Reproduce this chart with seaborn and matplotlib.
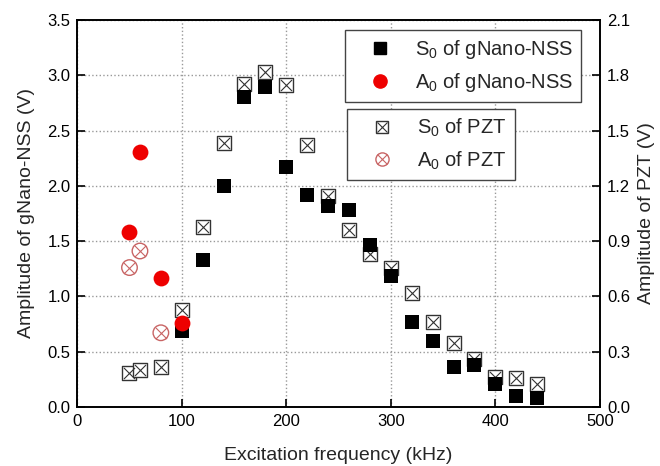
import numpy as np
import pandas as pd
import matplotlib
matplotlib.use("Agg")
import matplotlib.pyplot as plt
import seaborn as sns

# S0 / A0 amplitude of gNano-NSS (left axis, V)
freq_s0_nss = [100, 120, 140, 160, 180, 200, 220, 240, 260, 280, 300, 320, 340, 360, 380, 400, 420, 440]
amp_s0_nss = [0.69, 1.33, 2.00, 2.80, 2.89, 2.17, 1.92, 1.82, 1.78, 1.46, 1.18, 0.77, 0.60, 0.36, 0.38, 0.21, 0.10, 0.08]
freq_a0_nss = [50, 60, 80, 100]
amp_a0_nss = [1.58, 2.31, 1.17, 0.76]

# S0 / A0 amplitude of PZT (right axis, V)
freq_s0_pzt = [50, 60, 80, 100, 120, 140, 160, 180, 200, 220, 240, 260, 280, 300, 320, 340, 360, 380, 400, 420, 440]
amp_s0_pzt = [0.186, 0.198, 0.216, 0.528, 0.978, 1.434, 1.752, 1.818, 1.746, 1.422, 1.146, 0.96,
              0.828, 0.756, 0.618, 0.462, 0.348, 0.258, 0.162, 0.156, 0.126]
freq_a0_pzt = [50, 60, 80]
amp_a0_pzt = [0.756, 0.846, 0.402]

sns.set_style("ticks")
plt.rcParams['font.family'] = ['Liberation Sans', 'DejaVu Sans']
plt.rcParams['mathtext.default'] = 'regular'

fig = plt.figure(figsize=(6.6, 4.66), dpi=100)
ax = fig.add_axes([0.117, 0.127, 0.792, 0.830])
ax2 = ax.twinx()

pzt_red = "#c86464"

# PZT series on right axis (boxed x / circled x)
sns.scatterplot(x=freq_s0_pzt, y=amp_s0_pzt, ax=ax2, marker='s', s=100, facecolor='white',
                edgecolor='#333333', linewidth=1.0, zorder=3)
sns.scatterplot(x=freq_s0_pzt, y=amp_s0_pzt, ax=ax2, marker='x', s=64, color='#333333',
                linewidth=0.8, zorder=4)
sns.scatterplot(x=freq_a0_pzt, y=amp_a0_pzt, ax=ax2, marker='o', s=125, facecolor='none',
                edgecolor=pzt_red, linewidth=1.0, zorder=3)
sns.scatterplot(x=freq_a0_pzt, y=amp_a0_pzt, ax=ax2, marker='x', s=64, color=pzt_red,
                linewidth=0.8, zorder=4)

# gNano-NSS series on left axis
sns.scatterplot(x=freq_s0_nss, y=amp_s0_nss, ax=ax2, marker='s', s=110, color='black',
                linewidth=0, zorder=5, transform=ax.transData)
sns.scatterplot(x=freq_a0_nss, y=amp_a0_nss, ax=ax2, marker='o', s=130, color='#ee0000',
                linewidth=0, zorder=5, transform=ax.transData)

ax.set_xlim(0, 500)
ax.set_ylim(0, 3.5)
ax2.set_ylim(0, 2.1)
ax.set_xticks(np.arange(0, 501, 100))
ax.set_yticks(np.arange(0, 3.51, 0.5))
ax.set_yticklabels([f"{v:.1f}" for v in np.arange(0, 3.51, 0.5)])
ax2.set_yticks(np.arange(0, 2.11, 0.3))
ax2.set_yticklabels([f"{v:.1f}" for v in np.arange(0, 2.11, 0.3)])

ax.set_axisbelow(True)
ax.xaxis.grid(True, linestyle=':', color='#999999', linewidth=1.0)
ax.yaxis.grid(True, linestyle=':', color='#999999', linewidth=1.0)
for a in (ax, ax2):
    a.tick_params(direction='in', length=6, width=1.2, labelsize=12, pad=5, colors='black')
    for sp in a.spines.values():
        sp.set_linewidth(1.2)
        sp.set_color('black')

ax.set_xlabel("Excitation frequency (kHz)", fontsize=14, labelpad=13)
ax.set_ylabel("Amplitude of gNano-NSS (V)", fontsize=14, labelpad=9)
ax2.set_ylabel("Amplitude of PZT (V)", fontsize=14, labelpad=6)

# legends
h_s0n = plt.Line2D([], [], marker='s', ls='none', color='black', markersize=8.5)
h_a0n = plt.Line2D([], [], marker='o', ls='none', color='#ee0000', markersize=9.5)
h_s0p = (plt.Line2D([], [], marker='s', ls='none', mfc='white', mec='#333333', markersize=8.5),
         plt.Line2D([], [], marker='x', ls='none', color='#333333', markersize=6.5, mew=0.8))
h_a0p = (plt.Line2D([], [], marker='o', ls='none', mfc='none', mec=pzt_red, markersize=9.5),
         plt.Line2D([], [], marker='x', ls='none', color=pzt_red, markersize=6.5, mew=0.8))

leg_kw = dict(loc='upper left', fontsize=14.5, frameon=True, fancybox=False,
              edgecolor='#444444', framealpha=1, handletextpad=0.45,
              borderpad=0.4, labelspacing=0.5, handlelength=2.6, borderaxespad=0)
leg1 = ax2.legend([h_s0n, h_a0n], ["S$_0$ of gNano-NSS", "A$_0$ of gNano-NSS"],
                  bbox_to_anchor=(0.513, 0.974), **leg_kw)
leg1.get_frame().set_linewidth(1.0)
ax2.add_artist(leg1)
leg2 = ax2.legend([h_s0p, h_a0p], ["S$_0$ of PZT", "A$_0$ of PZT"],
                  bbox_to_anchor=(0.517, 0.770), **leg_kw)
leg2.get_frame().set_linewidth(1.0)

fig.savefig("out.png", dpi=100)
